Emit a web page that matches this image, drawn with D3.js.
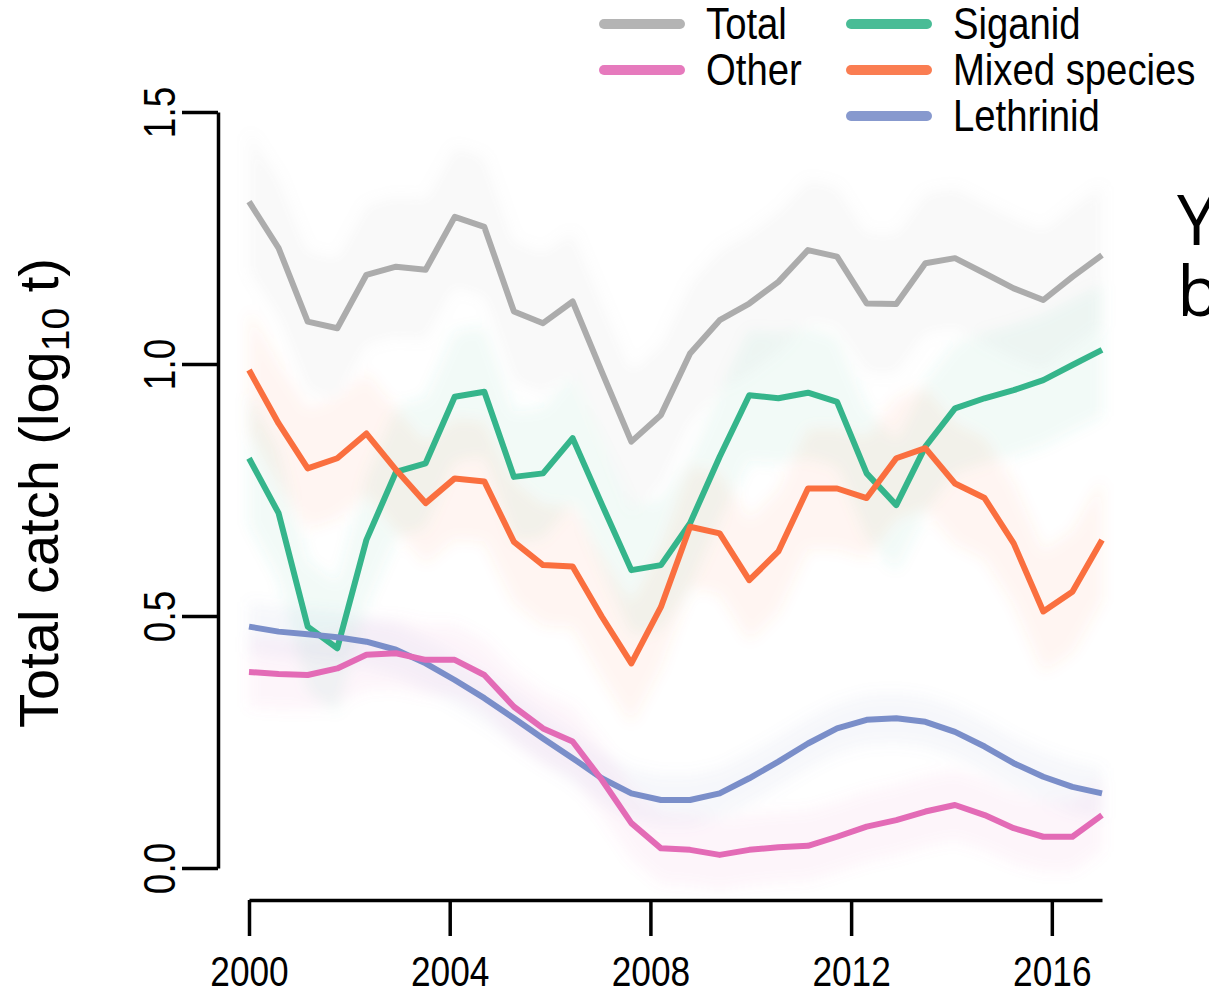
<!DOCTYPE html>
<html>
<head>
<meta charset="utf-8">
<script src="https://cdn.jsdelivr.net/npm/d3@7"></script>
<style>
  html, body { margin: 0; padding: 0; background: #ffffff; }
  svg { display: block; }
  text { font-family: "Liberation Sans", Arial, Helvetica, sans-serif; fill: #000; }
</style>
</head>
<body>
<svg id="chart" width="1209" height="996"></svg>
<script>
// Sampling times (decimal years) shared by every series
const years = [2000.00, 2000.59, 2001.17, 2001.76, 2002.34, 2002.93, 2003.52, 2004.10,
  2004.69, 2005.28, 2005.86, 2006.45, 2007.03, 2007.62, 2008.21, 2008.79, 2009.38,
  2009.97, 2010.55, 2011.14, 2011.72, 2012.31, 2012.90, 2013.48, 2014.07, 2014.66,
  2015.24, 2015.83, 2016.41, 2017.00];

// Catch per group, log10 tonnes
const total = [1.322, 1.230, 1.084, 1.071, 1.177, 1.193, 1.187, 1.292, 1.272, 1.104,
  1.081, 1.124, 0.985, 0.846, 0.899, 1.021, 1.087, 1.120, 1.163, 1.226, 1.213, 1.120,
  1.119, 1.200, 1.210, 1.180, 1.150, 1.127, 1.173, 1.216];
const siganid = [0.813, 0.704, 0.479, 0.436, 0.651, 0.786, 0.803, 0.935, 0.945, 0.776,
  0.783, 0.853, 0.722, 0.591, 0.601, 0.684, 0.816, 0.938, 0.932, 0.943, 0.925, 0.783,
  0.720, 0.836, 0.912, 0.932, 0.948, 0.968, 0.998, 1.028];
const mixedSpecies = [0.988, 0.882, 0.793, 0.813, 0.862, 0.790, 0.724, 0.773, 0.767,
  0.647, 0.601, 0.598, 0.499, 0.406, 0.518, 0.677, 0.664, 0.571, 0.628, 0.753, 0.753,
  0.734, 0.813, 0.833, 0.763, 0.734, 0.644, 0.509, 0.548, 0.651];
const lethrinid = [0.479, 0.469, 0.464, 0.458, 0.449, 0.433, 0.406, 0.373, 0.337, 0.297,
  0.257, 0.218, 0.178, 0.148, 0.135, 0.135, 0.148, 0.178, 0.211, 0.247, 0.277, 0.294,
  0.297, 0.290, 0.270, 0.241, 0.208, 0.181, 0.161, 0.148];
const other = [0.389, 0.385, 0.383, 0.396, 0.423, 0.426, 0.413, 0.413, 0.383, 0.320,
  0.277, 0.251, 0.175, 0.089, 0.039, 0.036, 0.026, 0.036, 0.041, 0.044, 0.062, 0.082,
  0.095, 0.112, 0.125, 0.105, 0.079, 0.062, 0.062, 0.105];

// Half-width of each uncertainty ribbon (log10 t)
const bandHalfWidth = { total: 0.14, siganid: 0.13, mixedSpecies: 0.12, lethrinid: 0.05, other: 0.07 };

const xTicks = [2000, 2004, 2008, 2012, 2016];
const yTicks = [0.0, 0.5, 1.0, 1.5];

const seriesColors = {
  "Total": "#acacac",
  "Other": "#e36bb6",
  "Siganid": "#35b58b",
  "Mixed species": "#fa6f3f",
  "Lethrinid": "#7a8ec9"
};

const series = [
  { name: "Total", values: total, band: bandHalfWidth.total },
  { name: "Siganid", values: siganid, band: bandHalfWidth.siganid },
  { name: "Lethrinid", values: lethrinid, band: bandHalfWidth.lethrinid },
  { name: "Other", values: other, band: bandHalfWidth.other },
  { name: "Mixed species", values: mixedSpecies, band: bandHalfWidth.mixedSpecies }
];

const svg = d3.select("#chart");

const x = d3.scaleLinear().domain([2000, 2017]).range([249, 1102]);
const y = d3.scaleLinear().domain([0, 1.5]).range([868, 112]);

// Condensed look of the label font
const NARROW = 0.82;

// Soft blur for the ribbons
const defs = svg.append("defs");
defs.append("filter").attr("id", "soft")
  .attr("x", "-10%").attr("y", "-20%").attr("width", "120%").attr("height", "140%")
  .append("feGaussianBlur").attr("stdDeviation", 7);

const area = d3.area()
  .x(d => x(d.t))
  .y0(d => y(d.lo))
  .y1(d => y(d.hi));

const line = d3.line()
  .x(d => x(d.t))
  .y(d => y(d.v));

const bands = svg.append("g").attr("filter", "url(#soft)");
series.forEach(s => {
  const pts = years.map((t, i) => ({ t, lo: s.values[i] - s.band, hi: s.values[i] + s.band }));
  bands.append("path")
    .datum(pts)
    .attr("d", area)
    .attr("fill", seriesColors[s.name])
    .attr("fill-opacity", 0.07);
});

const lines = svg.append("g");
series.forEach(s => {
  const pts = years.map((t, i) => ({ t, v: s.values[i] }));
  lines.append("path")
    .datum(pts)
    .attr("d", line)
    .attr("fill", "none")
    .attr("stroke", seriesColors[s.name])
    .attr("stroke-width", 6)
    .attr("stroke-linejoin", "round")
    .attr("stroke-linecap", "butt");
});

// Axes
const yAxis = d3.axisLeft(y).tickValues(yTicks).tickFormat(d3.format(".1f"))
  .tickSize(36).tickSizeOuter(0);
const gy = svg.append("g").attr("transform", "translate(218,0)").call(yAxis);
gy.select(".domain").attr("stroke", "#000").attr("stroke-width", 3.5);
gy.selectAll(".tick line").attr("stroke", "#000").attr("stroke-width", 3.5);
gy.selectAll(".tick text")
  .attr("x", null).attr("y", null).attr("dy", null)
  .attr("transform", `translate(-43,0) rotate(-90) scale(${NARROW},1)`)
  .attr("text-anchor", "middle")
  .style("font-size", "45px")
  .style("font-family", "'Liberation Sans', Arial, sans-serif")
  .attr("fill", "#000");

const xAxis = d3.axisBottom(x).tickValues(xTicks).tickFormat(d3.format("d"))
  .tickSize(36).tickSizeOuter(0);
const gx = svg.append("g").attr("transform", "translate(0,900)").call(xAxis);
gx.select(".domain").attr("stroke", "#000").attr("stroke-width", 3.5);
gx.selectAll(".tick line").attr("stroke", "#000").attr("stroke-width", 3.5);
gx.selectAll(".tick text")
  .attr("y", null).attr("dy", null)
  .attr("transform", `translate(0,86) scale(${NARROW},1)`)
  .attr("text-anchor", "middle")
  .style("font-size", "43px")
  .style("font-family", "'Liberation Sans', Arial, sans-serif")
  .attr("fill", "#000");

// Y axis title with subscript
const yTitle = svg.append("text")
  .attr("transform", "translate(58,493) rotate(-90)")
  .attr("text-anchor", "middle")
  .style("font-size", "56px");
yTitle.append("tspan").text("Total catch (log");
yTitle.append("tspan").attr("dy", 11).style("font-size", "39px").text("10");
yTitle.append("tspan").attr("dy", -11).text(" t)");

// Legend in two columns
const legendLayout = [
  { name: "Total", col: 0, row: 0 },
  { name: "Other", col: 0, row: 1 },
  { name: "Siganid", col: 1, row: 0 },
  { name: "Mixed species", col: 1, row: 1 },
  { name: "Lethrinid", col: 1, row: 2 }
];
const colX = [604, 851];
const legend = svg.append("g");
legendLayout.forEach(l => {
  const cy = 24 + l.row * 46;
  const x0 = colX[l.col];
  legend.append("line")
    .attr("x1", x0).attr("x2", x0 + 76)
    .attr("y1", cy).attr("y2", cy)
    .attr("stroke", seriesColors[l.name])
    .attr("stroke-width", 10)
    .attr("stroke-linecap", "round")
    .attr("stroke-opacity", 0.9);
  legend.append("text")
    .attr("transform", `translate(${x0 + 102},${cy + 15}) scale(0.87,1)`)
    .style("font-size", "44px")
    .text(l.name);
});

// Heading of the neighbouring panel, cut by the page edge
const heading = svg.append("text")
  .style("font-family", "'Open Sans', sans-serif").style("font-size", "70px");
heading.append("tspan").attr("x", 1177).attr("y", 245).text("Y");
heading.append("tspan").attr("x", 1177).attr("y", 316).text("b");
</script>
</body>
</html>
